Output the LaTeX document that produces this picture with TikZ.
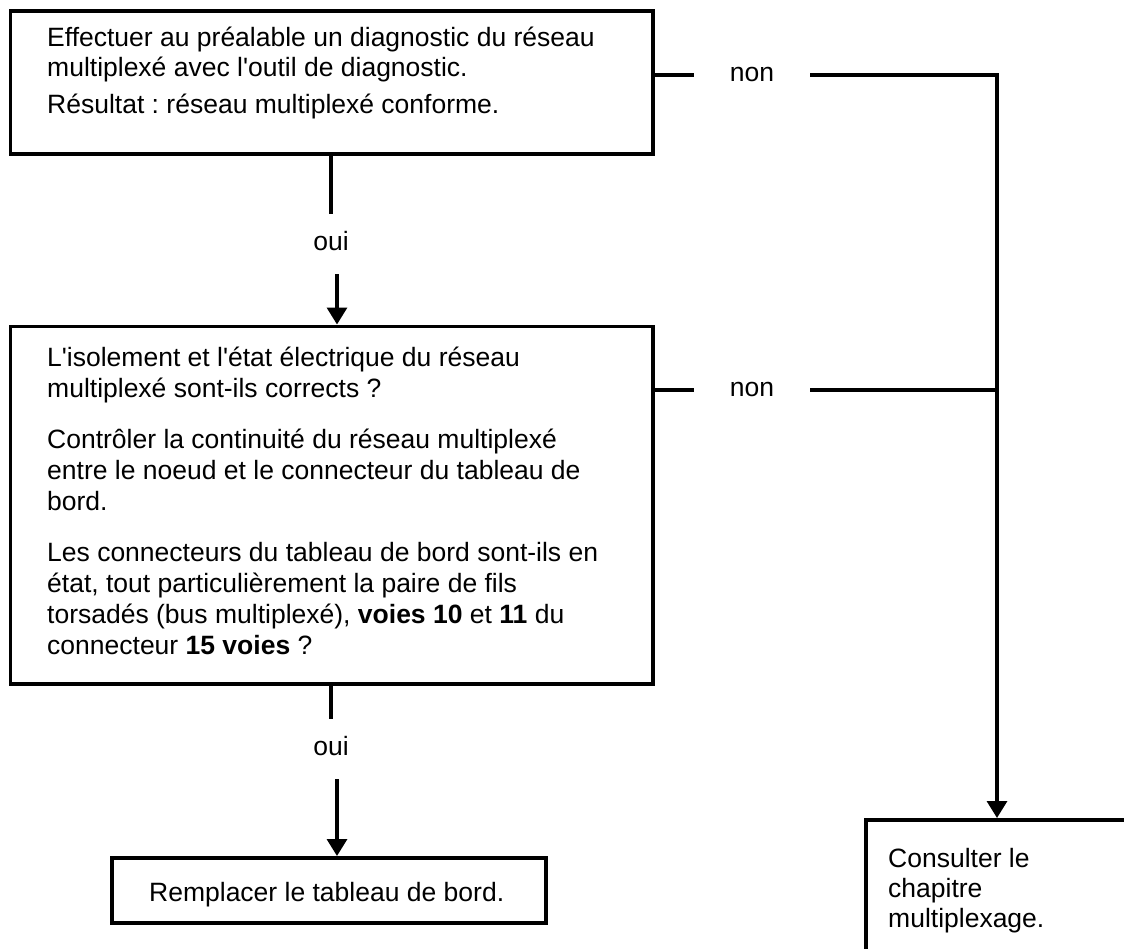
\documentclass[tikz,border=0pt]{standalone}
\usepackage{fontspec}
\setmainfont{Liberation Sans}[Ligatures=TeXOff]
\usetikzlibrary{arrows.meta}
\begin{document}
\frenchspacing
\begin{tikzpicture}[x=1pt,y=-1pt,
  box/.style={draw, line width=3.5pt, inner sep=0pt, outer sep=0pt, anchor=north west},
  txt/.style={inner sep=0pt, anchor=base west, font=\fontsize{26.5}{31}\selectfont},
  yeslbl/.style={inner xsep=4pt, inner ysep=16.5pt, text height=19pt, text depth=0pt,
                 font=\fontsize{26.5}{31}\selectfont},
  nolbl/.style={inner xsep=36pt, inner ysep=4pt, text height=13.5pt, text depth=0pt,
                font=\fontsize{26.5}{31}\selectfont},
  link/.style={line width=3.3pt},
  arr/.style={link, -{Triangle[width=20pt,length=17pt]}}]
\useasboundingbox (0,0) rectangle (1124,948);
\clip (0,0) rectangle (1124,948);
\fill[white] (0,0) rectangle (1124,948);

% boxes
\node[box, minimum width=642.5pt, minimum height=143pt] (b1) at (10.5,11) {};
\node[box, minimum width=642.5pt, minimum height=357.5pt] (b2) at (10.5,326.5) {};
\node[box, minimum width=434pt, minimum height=65pt] (b3) at (112,858) {};
\node[box, minimum width=400pt, minimum height=300pt] (b4) at (866,820) {};

% box texts
\node[txt] (t1) at (47,46) {\parbox[t]{800pt}{\fontsize{26.5}{30}\selectfont
  Effectuer au préalable un diagnostic du réseau\\
  multiplexé avec l'outil de diagnostic.\\[7pt]
  Résultat : réseau multiplexé conforme.}};
\node[txt] (t2) at (47,366) {\parbox[t]{800pt}{%
  L'isolement et l'état électrique du réseau\\
  multiplexé sont-ils corrects ?\\[20pt]
  Contrôler la continuité du réseau multiplexé\\
  entre le noeud et le connecteur du tableau de\\
  bord.\\[20pt]
  Les connecteurs du tableau de bord sont-ils en\\
  état, tout particulièrement la paire de fils\\
  torsadés (bus multiplexé), \textbf{voies 10} et \textbf{11} du\\
  connecteur \textbf{15 voies} ?}};
\node[txt] (t3) at (149,901) {Remplacer le tableau de bord.};
\node[txt] (t4) at (888,867) {\parbox[t]{300pt}{\fontsize{26.5}{30}\selectfont
  Consulter le\\
  chapitre\\
  multiplexage.}};

% branch labels
\node[yeslbl] (o1) at (331,240.5) {oui};
\node[yeslbl] (o2) at (331,745.5) {oui};
\node[nolbl] (n1) at (752,75) {non};
\node[nolbl] (n2) at (752,390) {non};
\coordinate (j) at (997,75);

% "oui" branches
\draw[link] (b1.south -| o1) -- (o1.north);
\draw[arr, shorten <=7.5pt, shorten >=2pt] ([xshift=6pt]o1.south) -- ([xshift=6pt]o1.south |- b2.north);
\draw[link] (b2.south -| o2) -- (o2.north);
\draw[arr, shorten <=7.5pt, shorten >=2pt] ([xshift=6pt]o2.south) -- ([xshift=6pt]o2.south |- b3.north);

% "non" branches
\draw[link] (b1.east |- n1) -- (n1.west);
\draw[arr, shorten >=2pt] (n1.east) -- (j) -- (j |- b4.north);
\draw[link] (b2.east |- n2) -- (n2.west);
\draw[link] (n2.east) -- (n2.east -| j);
\end{tikzpicture}
\end{document}
